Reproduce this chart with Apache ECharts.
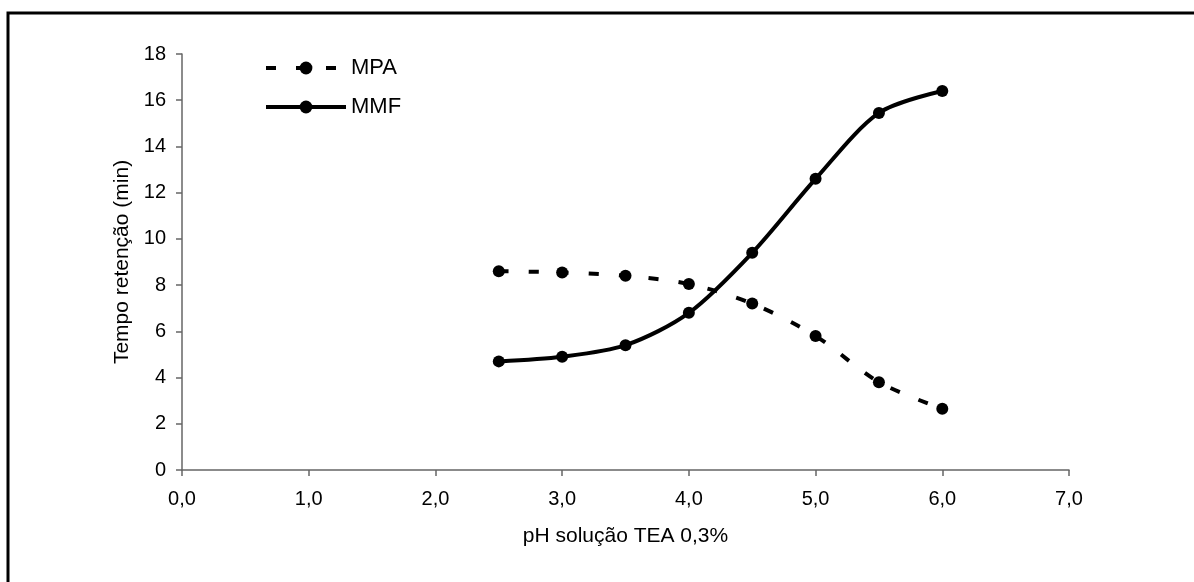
<!DOCTYPE html>
<html>
<head>
<meta charset="utf-8">
<script src="https://cdn.jsdelivr.net/npm/echarts@6/dist/echarts.min.js"></script>
<style>
html,body{margin:0;padding:0;background:#fff;}
#chart{width:1194px;height:582px;}
</style>
</head>
<body>
<div id="chart"></div>
<script>
const phValues = [2.5, 3.0, 3.5, 4.0, 4.5, 5.0, 5.5, 6.0];
const mpaValues = [8.6, 8.55, 8.4, 8.05, 7.2, 5.8, 3.8, 2.65];
const mmfValues = [4.7, 4.9, 5.4, 6.8, 9.4, 12.6, 15.45, 16.4];
const seriesNames = ['MPA', 'MMF'];
const xAxisTitle = 'pH solução TEA 0,3%';
const yAxisTitle = 'Tempo retenção (min)';

const font = 'Liberation Sans, Arial, sans-serif';
const chart = echarts.init(document.getElementById('chart'));
const pairs = (ys) => phValues.map((x, i) => [x, ys[i]]);

chart.setOption({
  animation: false,
  backgroundColor: '#fff',
  graphic: [{
    type: 'rect',
    shape: {x: 8, y: 13, width: 1300, height: 700},
    style: {fill: 'none', stroke: '#000', lineWidth: 3},
    silent: true
  }],
  grid: {left: 182, right: 125, top: 54, bottom: 112},
  legend: {
    orient: 'vertical',
    left: 259,
    top: 52,
    itemWidth: 80,
    itemHeight: 16,
    itemGap: 17,
    lineStyle: {width: 4},
    textStyle: {fontFamily: font, fontSize: 22, color: '#000'},
    data: seriesNames
  },
  xAxis: {
    type: 'value',
    min: 0, max: 7, interval: 1,
    name: xAxisTitle,
    nameLocation: 'middle',
    nameGap: 56,
    nameTextStyle: {fontFamily: font, fontSize: 21, color: '#000'},
    axisLine: {lineStyle: {color: '#666', width: 1.5}},
    axisTick: {inside: false, length: 6, lineStyle: {color: '#666', width: 1.5}},
    axisLabel: {fontFamily: font, fontSize: 20, color: '#000', margin: 19,
      formatter: v => v.toFixed(1).replace('.', ',')},
    splitLine: {show: false}
  },
  yAxis: {
    type: 'value',
    min: 0, max: 18, interval: 2,
    name: yAxisTitle,
    nameLocation: 'middle',
    nameRotate: 90,
    nameGap: 48,
    nameTextStyle: {fontFamily: font, fontSize: 21, color: '#000'},
    axisLine: {show: true, lineStyle: {color: '#666', width: 1.5}},
    axisTick: {show: true, inside: false, length: 6, lineStyle: {color: '#666', width: 1.5}},
    axisLabel: {fontFamily: font, fontSize: 20, color: '#000', margin: 16},
    splitLine: {show: false}
  },
  series: [
    {
      name: seriesNames[0],
      type: 'line',
      data: pairs(mpaValues),
      smooth: 0.3,
      symbol: 'circle',
      symbolSize: 12,
      itemStyle: {color: '#000'},
      lineStyle: {color: '#000', width: 4, type: [10, 20]}
    },
    {
      name: seriesNames[1],
      type: 'line',
      data: pairs(mmfValues),
      smooth: 0.3,
      symbol: 'circle',
      symbolSize: 12,
      itemStyle: {color: '#000'},
      lineStyle: {color: '#000', width: 4, type: 'solid'}
    }
  ]
});
</script>
</body>
</html>
